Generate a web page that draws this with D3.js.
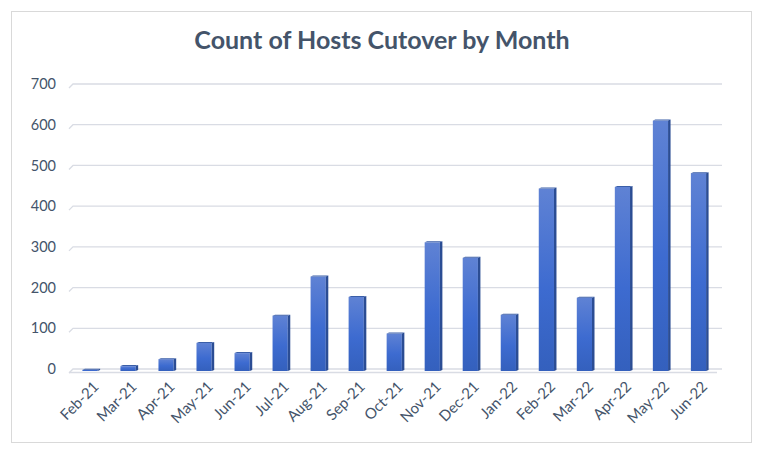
<!DOCTYPE html>
<html>
<head>
<meta charset="utf-8">
<script src="https://cdn.jsdelivr.net/npm/d3@7"></script>
<style>
  body { margin: 0; background: #ffffff; }
  svg { display: block; font-family: Lato, "Open Sans", sans-serif; }
</style>
</head>
<body>
<svg id="canvas" width="768" height="455"></svg>
<script>
// data
let months = ['Feb-21', 'Mar-21', 'Apr-21', 'May-21', 'Jun-21', 'Jul-21', 'Aug-21', 'Sep-21', 'Oct-21',
              'Nov-21', 'Dec-21', 'Jan-22', 'Feb-22', 'Mar-22', 'Apr-22', 'May-22', 'Jun-22']
let hostCounts = [3, 12, 29, 69, 44, 136, 232, 182, 92, 316, 278, 138, 448, 180, 452, 615, 486]
let yTicks = [0, 100, 200, 300, 400, 500, 600, 700]
let title = 'Count of Hosts Cutover by Month'

let canvas = d3.select('#canvas')

let textColor = '#44546A'
let depth = 2.5

// outer frame
canvas.append('rect')
      .attr('x', 11.5).attr('y', 11.5)
      .attr('width', 740).attr('height', 431)
      .attr('fill', '#ffffff')
      .attr('stroke', '#d9d9d9')

canvas.append('text')
      .text(title)
      .attr('x', 382).attr('y', 49)
      .attr('text-anchor', 'middle')
      .attr('font-size', 25)
      .attr('font-weight', 'bold')
      .attr('fill', textColor)

let xScale = d3.scaleBand()
               .domain(months)
               .range([71, 717.5])
               .paddingInner(0.6)
               .paddingOuter(0.3)

let yScale = d3.scaleLinear()
               .domain([0, 700])
               .range([371, 86])

// back wall gridlines
let grid = canvas.append('g')
yTicks.forEach((t) => {
    let gy = yScale(t) - 2
    grid.append('path')
        .attr('d', 'M69,' + (gy + 4) + 'L73,' + gy + 'L722,' + gy)
        .attr('fill', 'none')
        .attr('stroke', '#d9dce4')
        .attr('stroke-width', 1.3)
})

// floor line
canvas.append('line')
      .attr('x1', 69).attr('x2', 717)
      .attr('y1', 372.5).attr('y2', 372.5)
      .attr('stroke', '#d9dce4')
      .attr('stroke-width', 1.3)

let yAxis = d3.axisLeft(yScale).tickValues(yTicks).tickSize(0).tickPadding(0)
let yAxisG = canvas.append('g')
                   .attr('transform', 'translate(56, -2)')
                   .call(yAxis)
yAxisG.select('.domain').remove()
yAxisG.selectAll('text')
      .attr('font-size', 14.5)
      .attr('font-family', 'Lato, sans-serif')
      .attr('fill', textColor)

let defs = canvas.append('defs')
let grad = defs.append('linearGradient')
               .attr('id', 'barFill')
               .attr('x1', 0).attr('y1', 0).attr('x2', 0).attr('y2', 1)
grad.append('stop').attr('offset', '0%').attr('stop-color', '#5f82d4')
grad.append('stop').attr('offset', '55%').attr('stop-color', '#3d6bd0')
grad.append('stop').attr('offset', '100%').attr('stop-color', '#3460bd')

let bars = canvas.selectAll('g.bar')
                 .data(months)
                 .enter()
                 .append('g')
                 .attr('class', 'bar')

bars.append('rect')
    .attr('x', (m) => xScale(m))
    .attr('y', (m, i) => yScale(hostCounts[i]))
    .attr('width', xScale.bandwidth())
    .attr('height', (m, i) => yScale(0) - yScale(hostCounts[i]))
    .attr('fill', 'url(#barFill)')

// side face
bars.append('path')
    .attr('d', (m, i) => {
        let x1 = xScale(m) + xScale.bandwidth()
        let top = yScale(hostCounts[i])
        let bot = yScale(0)
        return 'M' + x1 + ',' + top + 'L' + (x1 + depth) + ',' + (top - 1) +
               'L' + (x1 + depth) + ',' + (bot - 1) + 'L' + x1 + ',' + bot + 'Z'
    })
    .attr('fill', '#2b4d94')

// top face
bars.append('path')
    .attr('d', (m, i) => {
        let x0 = xScale(m)
        let x1 = x0 + xScale.bandwidth()
        let top = yScale(hostCounts[i])
        return 'M' + x0 + ',' + top + 'L' + (x0 + depth) + ',' + (top - 1) +
               'L' + (x1 + depth) + ',' + (top - 1) + 'L' + x1 + ',' + top + 'Z'
    })
    .attr('fill', '#3a5ea8')

let xAxis = d3.axisBottom(xScale).tickSize(0).tickPadding(0)
let xAxisG = canvas.append('g')
                   .attr('transform', 'translate(0, 380)')
                   .call(xAxis)
xAxisG.select('.domain').remove()
xAxisG.selectAll('text')
      .attr('font-size', 15)
      .attr('font-family', 'Lato, sans-serif')
      .attr('fill', textColor)
      .attr('text-anchor', 'end')
      .attr('dy', '0.35em')
      .attr('transform', 'translate(6, 4) rotate(-45)')
</script>
</body>
</html>
